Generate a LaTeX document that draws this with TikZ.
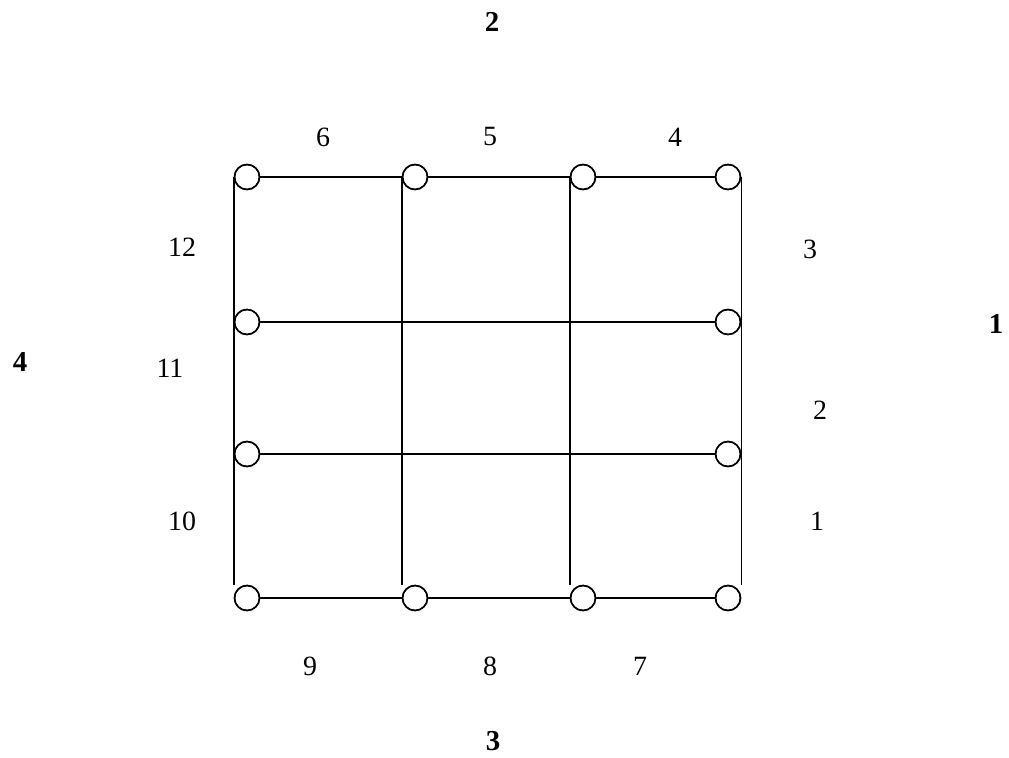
\documentclass[tikz,border=0pt]{standalone}
\usepackage{fontspec}
\setmainfont{Liberation Serif}
\begin{document}
\begin{tikzpicture}[x=1bp,y=-1bp,
  port/.style={circle,draw,line width=1.5bp,minimum size=25bp,inner sep=0pt,fill=white},
  wire/.style={line width=1.5bp},
  lbl/.style={inner sep=0pt,font=\fontsize{28}{32}\selectfont},
  side/.style={inner sep=0pt,font=\fontsize{29}{33}\selectfont\bfseries}]
\useasboundingbox (0,0) rectangle (1009,758);
% circles
\node[port] (c11) at (247,177) {};
\node[port] (c12) at (415,177) {};
\node[port] (c13) at (583,177) {};
\node[port] (c14) at (728,177) {};
\node[port] (c21) at (247,322) {};
\node[port] (c24) at (728,322) {};
\node[port] (c31) at (247,454) {};
\node[port] (c34) at (728,454) {};
\node[port] (c41) at (247,598) {};
\node[port] (c42) at (415,598) {};
\node[port] (c43) at (583,598) {};
\node[port] (c44) at (728,598) {};
% vertical lines
\draw[wire] (c11.west) -- (c11.west |- c41.north);
\draw[wire] (c12.west) -- (c12.west |- c42.north);
\draw[wire] (c13.west) -- (c13.west |- c43.north);
\draw[wire] (c14.east) -- (c14.east |- c44.north);
% horizontal lines
\draw[wire] (c11) -- (c12);
\draw[wire] (c12) -- (c13);
\draw[wire] (c13) -- (c14);
\draw[wire] (c21) -- (c24);
\draw[wire] (c31) -- (c34);
\draw[wire] (c41) -- (c42);
\draw[wire] (c42) -- (c43);
\draw[wire] (c43) -- (c44);
% redraw circle outlines on top of the lines
\foreach \n in {c11,c12,c13,c14,c21,c24,c31,c34,c41,c42,c43,c44}{
  \draw[line width=1.5bp] (\n) circle (12.5bp);}
% port labels
\node[lbl] (l6) at (323,137) {6};
\node[lbl] (l5) at (490,137) {5};
\node[lbl] (l4) at (675,137) {4};
\node[lbl] (l3) at (810,249) {3};
\node[lbl] (l2) at (820,410) {2};
\node[lbl] (l1) at (817,521) {1};
\node[lbl] (l12) at (182,247) {12};
\node[lbl] (l11) at (170,368) {11};
\node[lbl] (l10) at (182,521) {10};
\node[lbl] (l9) at (310,666) {9};
\node[lbl] (l8) at (490,666) {8};
\node[lbl] (l7) at (640,666) {7};
% side labels
\node[side] (s2) at (492,22) {2};
\node[side] (s4) at (20,362) {4};
\node[side] (s1) at (996,324) {1};
\node[side] (s3) at (493,741) {3};
\end{tikzpicture}
\end{document}
